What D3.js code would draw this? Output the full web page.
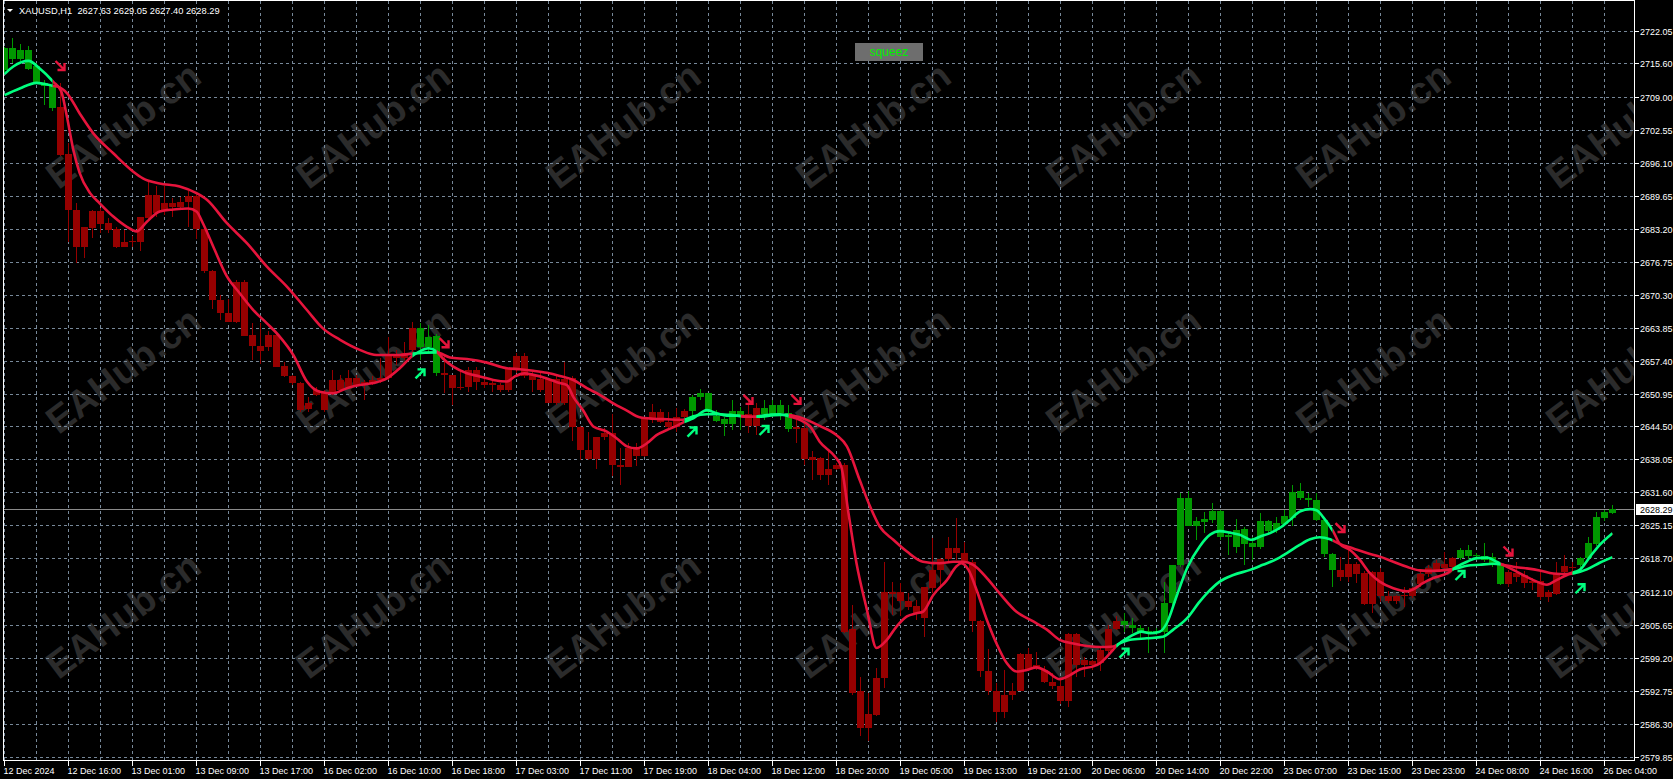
<!DOCTYPE html>
<html>
<head>
<meta charset="utf-8">
<title>XAUUSD,H1</title>
<script src="https://cdn.jsdelivr.net/npm/d3@7"></script>
<style>
  html, body {margin: 0; padding: 0; background: #000; overflow: hidden;}
</style>
</head>
<body>
<div id="app"></div>
<script>
`use strict`;

// H1 bars, 12 Dec 08:00 .. 26 Dec 05:00
const open = [
  2714.3, 2718.6, 2716.4, 2718.2, 2715.0, 2711.7, 2711.4, 2707.0, 2697.9, 2686.9,
  2679.7, 2683.3, 2686.6, 2684.4, 2683.2, 2679.7, 2680.9, 2680.6, 2685.3, 2689.8,
  2686.6, 2688.3, 2687.4, 2688.5, 2689.7, 2683.2, 2675.0, 2669.2, 2666.7, 2664.9,
  2672.7, 2662.4, 2660.3, 2660.0, 2662.4, 2656.3, 2654.4, 2653.1, 2647.9, 2650.7,
  2651.3, 2651.0, 2653.6, 2652.3, 2653.9, 2652.6, 2653.0, 2653.6, 2653.9, 2658.5,
  2658.0, 2659.5, 2660.1, 2662.1, 2662.2, 2655.0, 2654.6, 2652.0, 2652.3, 2655.6,
  2653.3, 2652.6, 2652.6, 2651.6, 2655.7, 2658.2, 2654.6, 2653.7, 2653.7, 2649.0,
  2653.7, 2653.9, 2644.3, 2639.9, 2638.1, 2642.4, 2643.3, 2637.0, 2636.6, 2640.2,
  2638.7, 2645.9, 2647.3, 2645.3, 2644.3, 2646.4, 2647.6, 2650.2, 2651.1, 2646.6,
  2645.9, 2645.0, 2647.6, 2646.9, 2644.6, 2648.1, 2646.9, 2648.7, 2647.1, 2643.9,
  2644.1, 2638.5, 2638.3, 2635.0, 2636.1, 2637.0, 2604.8, 2592.7, 2585.5, 2588.0,
  2595.2, 2612.0, 2612.0, 2610.4, 2609.3, 2606.9, 2612.8, 2616.4, 2618.5, 2620.6,
  2619.7, 2618.0, 2606.4, 2596.6, 2592.6, 2588.5, 2591.9, 2592.7, 2600.0, 2597.3,
  2596.8, 2594.4, 2593.7, 2590.8, 2603.9, 2597.8, 2598.6, 2598.1, 2600.6, 2604.8,
  2606.4, 2605.6, 2605.0, 2604.3, 2604.4, 2604.2, 2609.9, 2617.4, 2630.4, 2625.0,
  2625.7, 2626.2, 2627.9, 2622.8, 2624.2, 2621.4, 2621.7, 2620.8, 2626.0, 2624.2,
  2625.4, 2626.6, 2630.4, 2630.4, 2630.1, 2626.2, 2619.5, 2616.4, 2615.1, 2617.5,
  2615.7, 2609.7, 2615.9, 2611.3, 2610.4, 2611.2, 2611.2, 2613.7, 2615.6, 2616.4,
  2617.6, 2616.9, 2618.7, 2620.3, 2619.1, 2619.1, 2618.9, 2617.4, 2613.7, 2615.7,
  2615.4, 2613.9, 2614.3, 2611.0, 2611.7, 2615.9, 2616.9, 2617.4, 2618.7, 2621.5,
  2626.5, 2627.63
];

const high = [
  2718.9, 2720.5, 2719.5, 2719.0, 2715.6, 2712.4, 2711.7, 2711.7, 2700.0, 2688.2,
  2683.6, 2686.9, 2687.2, 2685.3, 2683.6, 2683.0, 2681.8, 2685.6, 2692.7, 2691.5,
  2691.5, 2689.2, 2689.5, 2690.7, 2690.2, 2683.3, 2675.2, 2670.3, 2669.4, 2673.2,
  2673.2, 2664.7, 2664.7, 2663.1, 2662.7, 2657.1, 2654.6, 2653.3, 2650.3, 2652.3,
  2651.7, 2655.6, 2654.6, 2655.6, 2654.6, 2653.6, 2654.3, 2657.9, 2662.1, 2659.5,
  2661.1, 2665.0, 2664.7, 2664.4, 2662.7, 2658.2, 2654.6, 2655.6, 2656.2, 2656.2,
  2654.3, 2653.6, 2653.0, 2655.9, 2658.8, 2658.8, 2655.2, 2654.9, 2653.9, 2654.3,
  2657.2, 2654.3, 2644.6, 2643.5, 2642.5, 2644.1, 2646.9, 2640.2, 2641.2, 2641.2,
  2645.9, 2648.9, 2647.9, 2647.3, 2648.1, 2647.9, 2650.7, 2651.8, 2651.1, 2647.7,
  2646.4, 2649.6, 2648.3, 2649.4, 2649.0, 2649.7, 2649.7, 2649.7, 2648.7, 2645.8,
  2645.1, 2639.6, 2638.6, 2639.9, 2637.3, 2637.3, 2609.5, 2595.5, 2592.2, 2597.1,
  2618.0, 2614.1, 2613.8, 2611.8, 2610.5, 2613.1, 2622.6, 2618.7, 2622.8, 2626.5,
  2621.9, 2618.4, 2606.6, 2600.9, 2594.2, 2596.7, 2594.2, 2600.2, 2601.1, 2600.4,
  2597.5, 2596.2, 2594.9, 2604.1, 2604.1, 2599.4, 2598.8, 2601.1, 2605.6, 2607.3,
  2607.9, 2606.9, 2605.6, 2605.3, 2605.0, 2614.1, 2617.4, 2631.4, 2631.9, 2626.8,
  2627.8, 2629.5, 2628.1, 2623.9, 2626.3, 2624.8, 2622.8, 2627.6, 2626.2, 2626.8,
  2628.1, 2633.0, 2633.4, 2631.4, 2631.4, 2626.5, 2619.7, 2619.0, 2620.3, 2618.0,
  2616.1, 2616.1, 2616.7, 2612.2, 2611.5, 2613.1, 2613.1, 2616.1, 2617.4, 2618.4,
  2620.0, 2619.0, 2620.6, 2621.3, 2619.7, 2621.6, 2619.8, 2617.7, 2616.4, 2618.0,
  2616.1, 2614.8, 2616.4, 2612.5, 2618.0, 2619.3, 2618.0, 2619.0, 2622.8, 2627.8,
  2628.1, 2629.05
];

const low = [
  2714.0, 2715.6, 2716.0, 2714.3, 2711.8, 2707.5, 2706.2, 2697.5, 2680.7, 2676.5,
  2677.4, 2681.4, 2682.3, 2682.3, 2679.4, 2679.6, 2679.7, 2678.9, 2685.2, 2685.6,
  2685.9, 2685.6, 2686.9, 2683.6, 2681.2, 2674.5, 2667.5, 2665.4, 2664.9, 2664.7,
  2662.2, 2657.5, 2656.7, 2659.2, 2656.1, 2654.1, 2652.6, 2647.4, 2647.4, 2650.4,
  2647.4, 2650.7, 2651.3, 2652.0, 2652.3, 2649.7, 2652.6, 2653.0, 2653.6, 2656.5,
  2657.5, 2658.8, 2657.5, 2658.8, 2654.3, 2651.0, 2648.7, 2651.6, 2651.3, 2651.6,
  2652.0, 2651.3, 2651.3, 2651.3, 2654.9, 2653.9, 2651.3, 2651.3, 2649.0, 2648.7,
  2648.7, 2641.7, 2637.9, 2637.9, 2636.1, 2641.9, 2634.8, 2633.0, 2636.6, 2636.8,
  2638.6, 2645.1, 2645.1, 2644.1, 2643.5, 2645.8, 2645.8, 2649.7, 2647.1, 2645.4,
  2642.6, 2643.8, 2643.8, 2643.3, 2642.8, 2645.8, 2646.4, 2645.8, 2643.5, 2641.2,
  2637.0, 2634.0, 2634.0, 2633.0, 2635.9, 2604.0, 2591.9, 2583.8, 2582.8, 2587.8,
  2593.2, 2607.6, 2607.3, 2608.6, 2606.5, 2603.3, 2611.8, 2613.1, 2618.2, 2618.4,
  2617.7, 2604.3, 2595.5, 2591.9, 2586.7, 2587.4, 2590.9, 2592.6, 2596.5, 2596.8,
  2594.2, 2593.0, 2590.2, 2589.6, 2595.5, 2595.5, 2596.8, 2596.5, 2600.1, 2604.7,
  2604.3, 2604.0, 2602.8, 2600.2, 2603.6, 2600.2, 2609.2, 2617.0, 2624.9, 2622.3,
  2623.6, 2625.5, 2622.3, 2619.3, 2619.7, 2617.4, 2618.4, 2620.5, 2623.6, 2623.6,
  2624.9, 2624.9, 2630.1, 2628.8, 2625.9, 2619.0, 2613.1, 2614.3, 2614.1, 2613.8,
  2609.5, 2608.0, 2610.2, 2609.9, 2609.7, 2609.2, 2610.8, 2613.1, 2615.1, 2616.1,
  2616.4, 2616.4, 2618.4, 2618.5, 2618.4, 2618.0, 2617.0, 2613.5, 2613.1, 2614.1,
  2612.8, 2612.5, 2610.5, 2610.2, 2611.5, 2615.7, 2615.4, 2615.7, 2618.4, 2621.0,
  2625.9, 2627.40
];

const close = [
  2718.6, 2716.4, 2718.2, 2714.6, 2712.0, 2711.1, 2706.8, 2697.7, 2686.8, 2679.7,
  2683.6, 2686.6, 2684.2, 2683.0, 2679.7, 2680.6, 2680.8, 2685.5, 2689.8, 2686.4,
  2688.3, 2687.4, 2688.5, 2689.7, 2683.2, 2675.0, 2669.2, 2666.7, 2664.9, 2672.7,
  2662.3, 2660.3, 2659.2, 2662.4, 2656.2, 2654.3, 2653.0, 2647.7, 2649.0, 2651.7,
  2647.7, 2653.6, 2651.7, 2653.9, 2652.6, 2653.3, 2653.6, 2653.9, 2658.5, 2658.0,
  2658.8, 2663.7, 2663.7, 2660.1, 2654.9, 2654.6, 2652.0, 2652.3, 2655.6, 2653.3,
  2652.6, 2653.0, 2651.6, 2655.7, 2658.2, 2654.3, 2653.6, 2651.6, 2649.0, 2653.7,
  2649.0, 2644.3, 2639.9, 2638.1, 2642.4, 2643.3, 2637.0, 2636.6, 2640.2, 2638.7,
  2645.9, 2647.3, 2645.3, 2644.3, 2646.4, 2647.6, 2650.2, 2651.1, 2647.4, 2645.6,
  2645.0, 2647.6, 2646.3, 2644.6, 2648.1, 2646.9, 2648.7, 2647.2, 2643.9, 2644.3,
  2638.1, 2637.9, 2635.0, 2636.1, 2637.0, 2604.3, 2592.2, 2585.4, 2588.2, 2595.2,
  2612.0, 2611.7, 2610.4, 2609.2, 2608.0, 2613.0, 2616.4, 2618.5, 2620.6, 2619.7,
  2618.2, 2606.3, 2596.5, 2592.6, 2588.5, 2591.9, 2592.7, 2600.0, 2596.9, 2597.8,
  2594.4, 2593.6, 2590.8, 2603.9, 2597.8, 2598.8, 2597.8, 2600.7, 2604.8, 2606.4,
  2605.6, 2605.0, 2604.3, 2604.5, 2604.2, 2609.9, 2617.4, 2630.4, 2625.0, 2625.9,
  2626.4, 2627.9, 2622.8, 2623.3, 2620.8, 2624.4, 2620.8, 2626.0, 2624.0, 2625.5,
  2627.0, 2631.7, 2631.9, 2630.0, 2626.2, 2619.5, 2616.3, 2615.1, 2617.5, 2615.6,
  2609.7, 2615.9, 2611.2, 2610.4, 2611.3, 2611.5, 2612.8, 2615.5, 2616.7, 2617.8,
  2616.7, 2618.7, 2620.3, 2619.1, 2619.3, 2618.4, 2617.4, 2613.7, 2615.9, 2615.1,
  2613.9, 2614.3, 2611.0, 2612.0, 2615.6, 2617.2, 2616.7, 2618.7, 2621.6, 2626.7,
  2627.75, 2628.29
];

// bar ranges where the trend is up (green), everything else is down (red)
const upRuns = [[0, 6], [52, 54], [86, 92], [95, 98], [140, 166], [182, 187], [197, 201]];

// [bar, price]
const fastLine = [
  [0, 2713.5], [1.1, 2715.0], [3.0, 2716.1], [4.4, 2714.6], [6.1, 2712.0], [7.1, 2710.1], [7.8, 2705.2],
  [8.6, 2698.7], [9.4, 2694.1], [10.7, 2690.2], [11.9, 2688.2], [13.6, 2685.6], [15.3, 2683.6], [16.5, 2682.7],
  [17.8, 2684.6], [19.4, 2686.6], [21.1, 2687.0], [23.0, 2687.2], [24.0, 2686.6], [24.8, 2684.3], [26.1, 2679.7],
  [27.8, 2673.9], [29.4, 2670.6], [31.1, 2667.3], [32.8, 2664.7], [34.4, 2662.1], [36.1, 2658.5], [37.8, 2653.3],
  [39.4, 2651.3], [41.1, 2651.0], [42.8, 2652.0], [44.4, 2652.6], [46.1, 2653.0], [47.8, 2653.9], [49.4, 2655.9],
  [50.9, 2658.2], [51.9, 2659.2], [53.0, 2659.8], [54.0, 2659.2], [54.8, 2657.8], [56.1, 2656.2], [57.8, 2654.9],
  [59.4, 2654.3], [61.1, 2653.6], [62.8, 2653.3], [63.8, 2654.3], [65.0, 2654.9], [66.1, 2654.6], [67.8, 2653.9],
  [69.4, 2653.0], [70.3, 2652.6], [71.1, 2650.3], [72.3, 2647.7], [73.6, 2644.5], [75.3, 2643.5], [76.5, 2642.2],
  [77.8, 2640.6], [79.0, 2640.2], [80.3, 2641.2], [81.5, 2642.8], [82.8, 2643.8], [84.0, 2644.6], [85.0, 2645.4],
  [86.1, 2646.1], [87.8, 2647.7], [89.0, 2647.1], [90.3, 2646.6], [91.9, 2646.6], [93.6, 2646.4], [95.7, 2646.8],
  [96.9, 2646.9], [98.2, 2646.4], [99.4, 2645.8], [100.7, 2644.5], [101.9, 2641.5], [103.8, 2638.6], [104.6, 2636.6],
  [105.5, 2627.5], [106.5, 2617.7], [107.8, 2608.6], [109.0, 2601.1], [110.3, 2602.7], [111.5, 2605.3], [112.8, 2607.3],
  [114.0, 2607.9], [114.8, 2608.2], [116.1, 2611.5], [117.8, 2614.4], [119.0, 2617.1], [119.6, 2617.7], [120.5, 2616.4],
  [121.5, 2612.5], [122.8, 2606.6], [124.0, 2602.0], [125.3, 2598.1], [126.5, 2596.5], [127.8, 2596.8], [129.0, 2597.3],
  [130.3, 2596.5], [131.9, 2595.0], [133.2, 2595.8], [134.4, 2596.9], [136.1, 2597.5], [136.9, 2598.1], [138.2, 2600.1],
  [139.0, 2601.5], [140.3, 2603.0], [141.5, 2604.0], [142.1, 2604.3], [143.2, 2604.0], [144.4, 2604.3], [145.3, 2606.0],
  [146.5, 2611.2], [147.9, 2617.0], [149.4, 2621.0], [150.7, 2623.3], [151.9, 2624.0], [153.2, 2623.7], [154.4, 2623.3],
  [155.9, 2622.3], [156.9, 2622.9], [158.2, 2623.6], [159.4, 2624.6], [160.7, 2626.2], [161.9, 2627.8], [163.2, 2628.3],
  [164.0, 2628.1], [164.8, 2626.8], [166.1, 2623.9], [166.9, 2621.5], [168.2, 2620.3], [169.4, 2618.4], [170.7, 2615.7],
  [171.9, 2614.1], [173.6, 2612.8], [175.3, 2612.2], [176.1, 2612.6], [177.3, 2613.8], [178.6, 2614.8], [180.3, 2615.7],
  [181.5, 2617.0], [182.8, 2618.0], [184.0, 2618.7], [185.3, 2618.8], [186.5, 2618.0], [187.3, 2617.4], [188.6, 2616.4],
  [189.8, 2615.4], [191.1, 2614.4], [192.8, 2613.5], [194.0, 2614.4], [195.7, 2615.7], [196.9, 2616.4], [198.2, 2619.0],
  [199.4, 2621.3], [201, 2623.6]
];

const slowLine = [
  [0, 2709.4], [1.9, 2710.7], [4.0, 2711.8], [6.1, 2711.2], [6.7, 2711.05], [7.8, 2709.8], [9.4, 2705.8],
  [11.1, 2701.9], [13.6, 2698.0], [16.1, 2694.4], [17.3, 2693.1], [19.4, 2692.1], [21.9, 2691.5], [24.0, 2690.2],
  [25.3, 2688.9], [27.8, 2684.3], [30.3, 2680.4], [32.8, 2675.8], [35.3, 2671.9], [37.8, 2667.3], [39.8, 2663.7],
  [41.9, 2661.5], [44.4, 2659.5], [46.5, 2658.5], [49.4, 2658.5], [51.1, 2658.8], [54.0, 2659.0], [55.7, 2658.0],
  [57.8, 2657.7], [60.3, 2657.0], [62.8, 2655.9], [64.4, 2655.7], [66.1, 2655.4], [67.8, 2655.0], [69.4, 2654.4],
  [71.1, 2653.6], [72.8, 2652.0], [74.4, 2650.7], [76.1, 2649.0], [77.8, 2647.6], [79.4, 2646.3], [81.1, 2646.0],
  [82.8, 2645.9], [84.8, 2645.8], [86.1, 2646.5], [87.8, 2646.9], [89.4, 2646.9], [91.1, 2646.7], [92.8, 2646.4],
  [94.4, 2646.4], [96.1, 2646.7], [97.8, 2646.8], [99.4, 2646.3], [101.9, 2644.6], [104.0, 2642.8], [105.3, 2640.6],
  [106.9, 2634.0], [108.2, 2628.8], [109.4, 2624.9], [111.1, 2622.3], [112.8, 2620.0], [114.8, 2618.0], [116.9, 2617.7],
  [118.6, 2618.0], [119.8, 2618.0], [121.1, 2617.4], [122.8, 2614.8], [124.4, 2611.8], [126.5, 2608.2], [128.6, 2606.3],
  [130.3, 2604.7], [131.9, 2602.7], [133.6, 2602.0], [135.3, 2601.5], [136.9, 2601.3], [138.6, 2601.4], [139.4, 2602.0],
  [140.7, 2602.7], [142.8, 2603.0], [144.8, 2603.3], [146.1, 2604.7], [147.8, 2606.9], [149.4, 2610.2], [150.3, 2611.8],
  [151.9, 2614.1], [153.6, 2615.4], [155.7, 2616.4], [157.3, 2617.4], [159.0, 2618.5], [160.3, 2619.7], [161.9, 2621.3],
  [163.2, 2622.4], [164.4, 2622.8], [165.7, 2622.4], [166.9, 2621.5], [168.6, 2620.6], [170.3, 2619.7], [171.9, 2619.0],
  [173.6, 2618.0], [175.3, 2617.0], [176.9, 2616.3], [178.6, 2616.2], [180.3, 2616.4], [181.5, 2616.7], [182.8, 2617.2],
  [184.4, 2617.4], [186.1, 2617.6], [187.3, 2617.4], [188.6, 2617.0], [190.3, 2616.7], [191.9, 2616.3], [193.6, 2615.7],
  [195.3, 2615.6], [196.1, 2615.7], [197.8, 2616.5], [199.4, 2617.8], [201, 2618.9]
];

// signal arrows: [bar, price]
const sellArrows = [[7, 2715.1], [55, 2660.8], [93, 2649.7], [99, 2649.7], [167, 2624.6], [188, 2620.0]];
const buyArrows = [[52, 2654.9], [86, 2643.5], [95, 2643.8], [140, 2600.2], [182, 2615.4], [197, 2612.8]];

const priceTicks = [
  `2722.05`, `2715.60`, `2709.00`, `2702.55`, `2696.10`, `2689.65`, `2683.20`, `2676.75`, `2670.30`, `2663.85`,
  `2657.40`, `2650.95`, `2644.50`, `2638.05`, `2631.60`, `2625.15`, `2618.70`, `2612.10`, `2605.65`, `2599.20`,
  `2592.75`, `2586.30`, `2579.85`
];

const timeLabels = [
  [0, `12 Dec 2024`], [8, `12 Dec 16:00`], [16, `13 Dec 01:00`], [24, `13 Dec 09:00`], [32, `13 Dec 17:00`],
  [40, `16 Dec 02:00`], [48, `16 Dec 10:00`], [56, `16 Dec 18:00`], [64, `17 Dec 03:00`], [72, `17 Dec 11:00`],
  [80, `17 Dec 19:00`], [88, `18 Dec 04:00`], [96, `18 Dec 12:00`], [104, `18 Dec 20:00`], [112, `19 Dec 05:00`],
  [120, `19 Dec 13:00`], [128, `19 Dec 21:00`], [136, `20 Dec 06:00`], [144, `20 Dec 14:00`], [152, `20 Dec 22:00`],
  [160, `23 Dec 07:00`], [168, `23 Dec 15:00`], [176, `23 Dec 23:00`], [184, `24 Dec 08:00`], [192, `24 Dec 16:00`],
  [200, `26 Dec 04:00`]
];

const symbol = `XAUUSD,H1`;
const lastPrice = 2628.29;
const badge = `squeez`;
const watermark = `EAHub.cn`;

/**/

const W = 1673, H = 779;
const Box = {left: 3.5, top: 0.5, right: 1634.5, bottom: 760.5};
const Font = `"Liberation Sans", Arial, sans-serif`;

const C = {
  grid: `#778899`,
  bull: `#009800`,
  bear: `#960000`,
  upLine: `#00ff7f`,
  dnLine: `#e6143c`,
  upArrow: `#00ff7f`,
  dnArrow: `#e6143c`
};

let x = d3.scaleLinear().domain([0, 200]).range([4.5, 1604.5]);
let y = d3.scaleLinear().domain([2579.85, 2722.05]).range([756.5, 30.5]);

let isUp = i => upRuns.some(r => i >= r[0] && i <= r[1]);

let SVG = d3.select(`#app`).append(`svg`).attr(`width`, W).attr(`height`, H).style(`display`, `block`).style(`background`, `#000`);

let defs = SVG.append(`defs`);

defs.append(`clipPath`).attr(`id`, `plot`).append(`rect`)
  .attr(`x`, Box.left + 0.5).attr(`y`, Box.top + 0.5).attr(`width`, Box.right - Box.left - 1).attr(`height`, Box.bottom - Box.top - 1);

// line colour switches: green between previous bar and the last bar of an up run
let cuts = [];
upRuns.forEach(r => cuts.push([r[0] ? x(r[0] - 1) : 0, x(r[1])]));

let upClip = defs.append(`clipPath`).attr(`id`, `upclip`);
cuts.forEach(c => upClip.append(`rect`).attr(`x`, c[0]).attr(`y`, 0).attr(`width`, c[1] - c[0]).attr(`height`, H));

let dnClip = defs.append(`clipPath`).attr(`id`, `dnclip`);
let from = 0;
cuts.forEach(c => {
  if (c[0] > from) dnClip.append(`rect`).attr(`x`, from).attr(`y`, 0).attr(`width`, c[0] - from).attr(`height`, H);
  from = c[1];
});
if (from < W) dnClip.append(`rect`).attr(`x`, from).attr(`y`, 0).attr(`width`, W - from).attr(`height`, H);

/* watermark */

let marks = SVG.append(`g`).attr(`clip-path`, `url(#plot)`)
  .attr(`font-family`, Font).attr(`font-weight`, `bold`).attr(`font-size`, 38).attr(`fill`, `#2b2b2b`);

d3.range(3).forEach(r => {
  d3.range(7).forEach(c => {
    marks.append(`text`)
      .attr(`transform`, `translate(${123 + 250 * c},${125 + 245 * r}) rotate(-37)`)
      .attr(`text-anchor`, `middle`).attr(`dy`, `0.35em`)
      .text(watermark);
  });
});

/* grid */

let grid = SVG.append(`g`).attr(`stroke`, C.grid).attr(`stroke-dasharray`, `3,3`).attr(`shape-rendering`, `crispEdges`).attr(`clip-path`, `url(#plot)`);

grid.selectAll(`line.h`).data(priceTicks).enter().append(`line`).attr(`class`, `h`)
  .attr(`x1`, Box.left).attr(`x2`, Box.right)
  .attr(`y1`, d => Math.round(y(+d)) + 0.5).attr(`y2`, d => Math.round(y(+d)) + 0.5);

grid.selectAll(`line.v`).data(d3.range(0, 201, 4)).enter().append(`line`).attr(`class`, `v`)
  .attr(`x1`, d => x(d)).attr(`x2`, d => x(d))
  .attr(`y1`, Box.top).attr(`y2`, Box.bottom);

/* last price line */

SVG.append(`line`)
  .attr(`x1`, Box.left).attr(`x2`, Box.right)
  .attr(`y1`, Math.round(y(lastPrice)) + 0.5).attr(`y2`, Math.round(y(lastPrice)) + 0.5)
  .attr(`stroke`, `#8a8a8a`).attr(`shape-rendering`, `crispEdges`);

/* candles */

let bars = SVG.append(`g`).attr(`clip-path`, `url(#plot)`).attr(`shape-rendering`, `crispEdges`);

let candle = bars.selectAll(`g`).data(d3.range(open.length)).enter().append(`g`)
  .attr(`fill`, i => isUp(i) ? C.bull : C.bear);

candle.append(`rect`)
  .attr(`x`, i => x(i) - 0.5).attr(`width`, 1)
  .attr(`y`, i => y(high[i])).attr(`height`, i => Math.max(1, y(low[i]) - y(high[i])));

candle.append(`rect`)
  .attr(`x`, i => x(i) - 3.5).attr(`width`, 7)
  .attr(`y`, i => y(Math.max(open[i], close[i])))
  .attr(`height`, i => Math.max(1, Math.abs(y(open[i]) - y(close[i]))));

/* trend lines */

let line = d3.line().x(d => x(d[0])).y(d => y(d[1])).curve(d3.curveMonotoneX);

let lines = SVG.append(`g`).attr(`clip-path`, `url(#plot)`).attr(`fill`, `none`).attr(`stroke-width`, 2.6).attr(`stroke-linejoin`, `round`);

[[`dnclip`, C.dnLine], [`upclip`, C.upLine]].forEach(s => {
  let g = lines.append(`g`).attr(`clip-path`, `url(#${s[0]})`).attr(`stroke`, s[1]);
  g.append(`path`).attr(`d`, line(slowLine));
  g.append(`path`).attr(`d`, line(fastLine));
});

/* arrows */

let arrows = SVG.append(`g`).attr(`fill`, `none`).attr(`stroke-width`, 2.4);

arrows.selectAll(`path.sell`).data(sellArrows).enter().append(`path`).attr(`class`, `sell`)
  .attr(`stroke`, C.dnArrow)
  .attr(`transform`, d => `translate(${x(d[0])},${y(d[1])})`)
  .attr(`d`, `M-5,-5L4,4M-3,4H4V-3`);

arrows.selectAll(`path.buy`).data(buyArrows).enter().append(`path`).attr(`class`, `buy`)
  .attr(`stroke`, C.upArrow)
  .attr(`transform`, d => `translate(${x(d[0])},${y(d[1])})`)
  .attr(`d`, `M-5,5L4,-4M-3,-4H4V3`);

/* frame */

SVG.append(`rect`)
  .attr(`x`, Box.left).attr(`y`, Box.top).attr(`width`, Box.right - Box.left).attr(`height`, Box.bottom - Box.top)
  .attr(`fill`, `none`).attr(`stroke`, `#fff`).attr(`shape-rendering`, `crispEdges`);

/* price axis */

let yAxis = SVG.append(`g`).attr(`font-family`, Font).attr(`font-size`, 9).attr(`fill`, `#fff`);

yAxis.selectAll(`line`).data(priceTicks).enter().append(`line`)
  .attr(`x1`, Box.right).attr(`x2`, Box.right + 4)
  .attr(`y1`, d => Math.round(y(+d)) + 0.5).attr(`y2`, d => Math.round(y(+d)) + 0.5)
  .attr(`stroke`, `#fff`).attr(`shape-rendering`, `crispEdges`);

yAxis.selectAll(`text`).data(priceTicks).enter().append(`text`)
  .attr(`x`, Box.right + 5.5).attr(`y`, d => Math.round(y(+d)) + 3.5)
  .text(d => d);

let tag = SVG.append(`g`).attr(`transform`, `translate(${Box.right + 1.5},${Math.round(y(lastPrice)) - 5})`);
tag.append(`rect`).attr(`width`, W - Box.right).attr(`height`, 11).attr(`fill`, `#fff`);
tag.append(`text`).attr(`x`, 4).attr(`y`, 8.5).attr(`font-family`, Font).attr(`font-size`, 9).attr(`fill`, `#000`).text(lastPrice.toFixed(2));

/* time axis */

let xAxis = SVG.append(`g`).attr(`font-family`, Font).attr(`font-size`, 9).attr(`fill`, `#fff`);

xAxis.selectAll(`line`).data(timeLabels).enter().append(`line`)
  .attr(`x1`, d => x(d[0])).attr(`x2`, d => x(d[0]))
  .attr(`y1`, Box.bottom).attr(`y2`, Box.bottom + 5)
  .attr(`stroke`, `#fff`).attr(`shape-rendering`, `crispEdges`);

xAxis.selectAll(`text`).data(timeLabels).enter().append(`text`)
  .attr(`x`, d => x(d[0]) - 1).attr(`y`, 773.5)
  .text(d => d[1]);

/* header */

SVG.append(`path`).attr(`d`, `M7,9H13L10,12Z`).attr(`fill`, `#fff`);

SVG.append(`text`).attr(`x`, 19).attr(`y`, 13.5)
  .attr(`font-family`, Font).attr(`font-size`, 9.3).attr(`fill`, `#fff`).attr(`xml:space`, `preserve`)
  .text(`${symbol}  ${open[open.length - 1].toFixed(2)} ${high[high.length - 1].toFixed(2)} ${low[low.length - 1].toFixed(2)} ${close[close.length - 1].toFixed(2)}`);

let flag = SVG.append(`g`).attr(`transform`, `translate(855,43)`);
flag.append(`rect`).attr(`width`, 68).attr(`height`, 18).attr(`fill`, `#6e6e6e`);
flag.append(`text`).attr(`x`, 34).attr(`y`, 13).attr(`text-anchor`, `middle`)
  .attr(`font-family`, Font).attr(`font-size`, 12).attr(`fill`, `#00f000`).text(badge);
</script>
</body>
</html>
